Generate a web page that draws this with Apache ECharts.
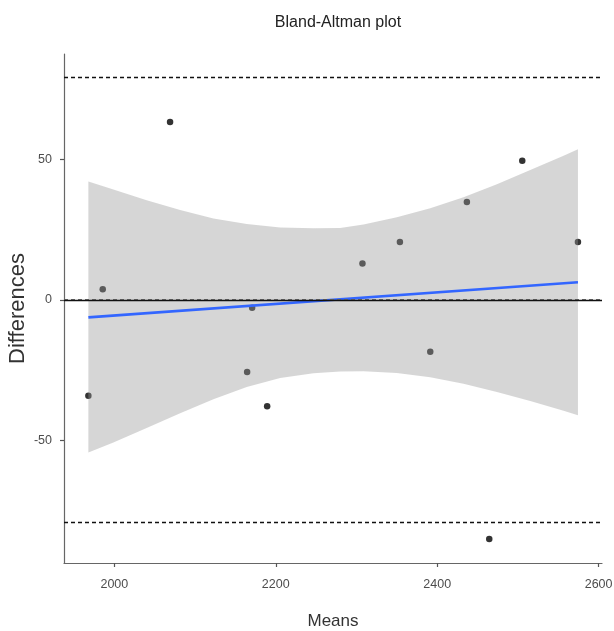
<!DOCTYPE html>
<html>
<head>
<meta charset="utf-8">
<script src="https://cdn.jsdelivr.net/npm/echarts@6/dist/echarts.min.js"></script>
<style>
  html, body { margin: 0; padding: 0; background: #fff; }
  #chart { width: 614px; height: 631px; }
</style>
</head>
<body>
<div id="chart"></div>
<script>
// ============ data ============
const means = [1967.8, 1985.6, 2069.0, 2164.5, 2170.7, 2189.3, 2307.4, 2353.8, 2391.4, 2436.8, 2464.5, 2505.4, 2574.4]
const diffs = [-34.1, 3.8, 63.3, -25.6, -2.8, -37.8, 13.0, 20.6, -18.4, 34.8, -85.1, 49.5, 20.6]

// fitted line (ends) and its confidence band
const fitX = [1967.8, 2574.4]
const fitY = [-6.2, 6.3]
const bandX = [1967.8, 1998.8, 2040, 2081.5, 2122.7, 2164, 2205.4, 2246.7, 2279.8, 2308.7, 2350, 2391.4, 2432.6, 2474, 2515.3, 2556.6, 2574.4]
const bandUpper = [42.1, 39.3, 35.5, 32.0, 29.0, 27.0, 25.8, 25.5, 25.6, 26.8, 29.4, 32.6, 36.5, 41.2, 46.2, 51.3, 53.6]
const bandLower = [-54.3, -50.7, -45.6, -40.3, -35.3, -31.0, -27.8, -26.1, -25.5, -25.4, -26.0, -27.5, -29.8, -32.8, -36.0, -39.4, -41.0]

// reference lines
const meanDiff = 0.2
const upperLoA = 79.4
const lowerLoA = -79.0

// axes
const xTicks = [2000, 2200, 2400, 2600]
const yTicks = [-50, 0, 50]
const xRange = [1937.6, 2604.2]
const yRange = [-93.6, 87.5]

const font = '"Liberation Sans Narrow", "Liberation Sans", Arial, sans-serif'

const chart = echarts.init(document.getElementById('chart'))

const axisCommon = {
  axisLine: { show: true, onZero: false, lineStyle: { color: '#666', width: 1.2 } },
  axisTick: { show: true, length: 4, lineStyle: { color: '#555', width: 1.2 } },
  splitLine: { show: false },
  nameMoveOverlap: false,
  nameTextStyle: { color: '#333', fontSize: 17, fontFamily: font }
}

chart.setOption({
  animation: false,
  backgroundColor: '#fff',
  title: {
    text: 'Bland-Altman plot',
    left: 333,
    top: 10,
    textAlign: 'center',
    textStyle: { color: '#222', fontSize: 16, fontWeight: 'normal', fontFamily: font }
  },
  grid: { left: 64, right: 12, top: 54, bottom: 68, containLabel: false, outerBoundsMode: 'none' },
  xAxis: {
    ...axisCommon,
    type: 'value',
    min: xRange[0],
    max: xRange[1],
    name: 'Means',
    nameLocation: 'middle',
    nameGap: 50,
    axisTick: { ...axisCommon.axisTick, customValues: xTicks },
    axisLabel: {
      customValues: xTicks,
      formatter: (v) => String(v),
      color: '#4d4d4d', fontSize: 12.5, fontFamily: font, margin: 15
    }
  },
  yAxis: {
    ...axisCommon,
    type: 'value',
    min: yRange[0],
    max: yRange[1],
    name: 'Differences',
    nameLocation: 'middle',
    nameGap: 35,
    nameTextStyle: { color: '#333', fontSize: 22, fontFamily: font },
    axisTick: { ...axisCommon.axisTick, customValues: yTicks },
    axisLabel: {
      customValues: yTicks,
      formatter: (v) => String(v),
      color: '#4d4d4d', fontSize: 12.5, fontFamily: font, margin: 12
    }
  },
  series: [
    {
      name: 'points',
      type: 'scatter',
      data: means.map((m, i) => [m, diffs[i]]),
      symbol: 'circle',
      symbolSize: 6.5,
      itemStyle: { color: '#000' },
      z: 2,
      markLine: {
        silent: true,
        symbol: 'none',
        label: { show: false },
        data: [
          { yAxis: 0, lineStyle: { color: '#111', type: 'solid', width: 1.3 } },
          { yAxis: meanDiff, lineStyle: { color: '#555', type: [4, 3], width: 1 } },
          { yAxis: upperLoA, lineStyle: { color: '#111', type: [4, 3], width: 1.3 } },
          { yAxis: lowerLoA, lineStyle: { color: '#111', type: [4, 3], width: 1.3 } }
        ]
      }
    },
    {
      name: 'band',
      type: 'custom',
      silent: true,
      data: [[bandX[0], bandUpper[0]]],
      z: 3,
      renderItem: (params, api) => {
        const top = bandX.map((x, i) => api.coord([x, bandUpper[i]]))
        const bottom = bandX.map((x, i) => api.coord([x, bandLower[i]])).reverse()
        return {
          type: 'polygon',
          shape: { points: top.concat(bottom) },
          style: { fill: 'rgba(153,153,153,0.4)' }
        }
      }
    },
    {
      name: 'fit',
      type: 'line',
      data: fitX.map((x, i) => [x, fitY[i]]),
      showSymbol: false,
      lineStyle: { color: '#3366FF', width: 2.6 },
      z: 4
    }
  ]
})
</script>
</body>
</html>
